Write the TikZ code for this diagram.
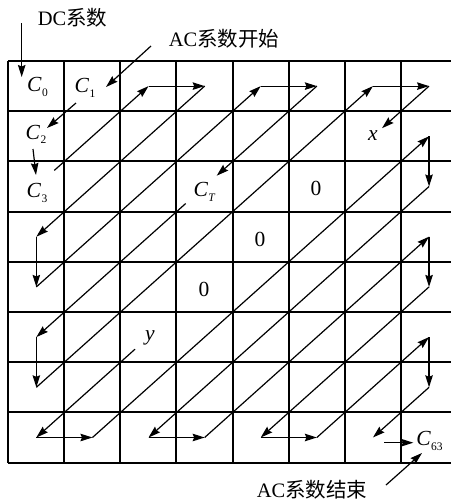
\documentclass[tikz,border=0pt]{standalone}
\usepackage{fontspec}
\setmainfont{Liberation Serif}
\newfontfamily\cjk{Noto Sans CJK SC}
\usetikzlibrary{arrows.meta}
\newcommand\Csub[1]{\textit{C}\kern0.3pt\raisebox{-0.45ex}{\fontsize{11.5}{11.5}\selectfont #1}}
\begin{document}
\begin{tikzpicture}[x=1pt,y=-1pt,
  gridline/.style={line width=1.7pt},
  conn/.style={line width=1.2pt, -{Stealth[length=12pt,width=7.5pt,inset=1.5pt]}},
  lbl/.style={inner sep=0pt, font=\fontsize{20.5}{24}\selectfont},
  cell/.style={inner sep=0pt, font=\fontsize{21.5}{24}\selectfont}]
\useasboundingbox (0,0) rectangle (451,501);
% grid (lines snapped to whole pixels)
\foreach \gx in {8,64,120,176,233,289,345,401} \draw[gridline] (\gx,61) -- (\gx,463);
\foreach \gy in {61,111,161,212,262,312,362,412,463} \draw[gridline] (8,\gy) -- (451,\gy);
% cell centres
\foreach \c in {0,...,7}{\foreach \r in {0,...,7}{\coordinate (p\c\r) at (36.35+56.1*\c,86.1+50.2*\r);}}
% labels
\node[lbl] (dc) at (72.5,18) {DC{\cjk 系数}};
\node[lbl] (acs) at (224,39) {AC{\cjk 系数开始}};
\node[lbl] (ace) at (312,490) {AC{\cjk 系数结束}};
\node[cell] (c0) at (37.5,87) {\Csub{0}};
\node[cell] (c1) at (85,88) {\Csub{1}};
\node[cell] (c2) at (36,134.5) {\Csub{2}};
\node[cell] (c3) at (37,193) {\Csub{3}};
\node[cell] (ct) at (204.5,192) {\Csub{\textit{T}}};
\node[cell] (c63) at (429.5,441) {\Csub{63}};
\node[cell] (lx) at (373,136) {\textit{x}};
\node[cell] (ly) at (150,338) {\textit{y}};
\node[cell] (z1) at (316,188) {0};
\node[cell] (z2) at (260,239) {0};
\node[cell] (z3) at (204,289) {0};
% free ends
\coordinate (dcA) at (21.7,23);   \coordinate (dcB) at (21.7,77);
\coordinate (acA) at (151,46);    \coordinate (acB) at (106,87);
\coordinate (aeA) at (386,485);   \coordinate (aeB) at (422,453);
\coordinate (q1a) at (76,103);    \coordinate (q1b) at (47,128);
\coordinate (q2a) at (33,149);    \coordinate (q2b) at (36,175);
\coordinate (q3a) at (54.3,170.4);
\coordinate (ctA) at (216.7,175.7); \coordinate (ctB) at (185.7,203.5);
\coordinate (xA) at (382,128.2);  \coordinate (yB) at (135,349.2);
\coordinate (e1) at (384,442.7);  \coordinate (e2) at (413.3,442.7);
% connectors
\foreach \a/\b in {dcA/dcB, acA/acB, aeA/aeB, q1a/q1b, q2a/q2b, q3a/p20, p20/p30,
  p30/p03, p03/p04, p04/p40, p40/p50, p50/ctA, ctB/p05, p05/p06, p06/p60, p60/p70,
  p70/xA, yB/p07, p07/p17, p17/p71, p71/p72, p72/p27, p27/p37, p37/p73, p73/p74,
  p74/p47, p47/p57, p57/p75, p75/p76, p76/p67, e1/e2}
  \draw[conn] (\a) -- (\b);
\end{tikzpicture}
\end{document}
